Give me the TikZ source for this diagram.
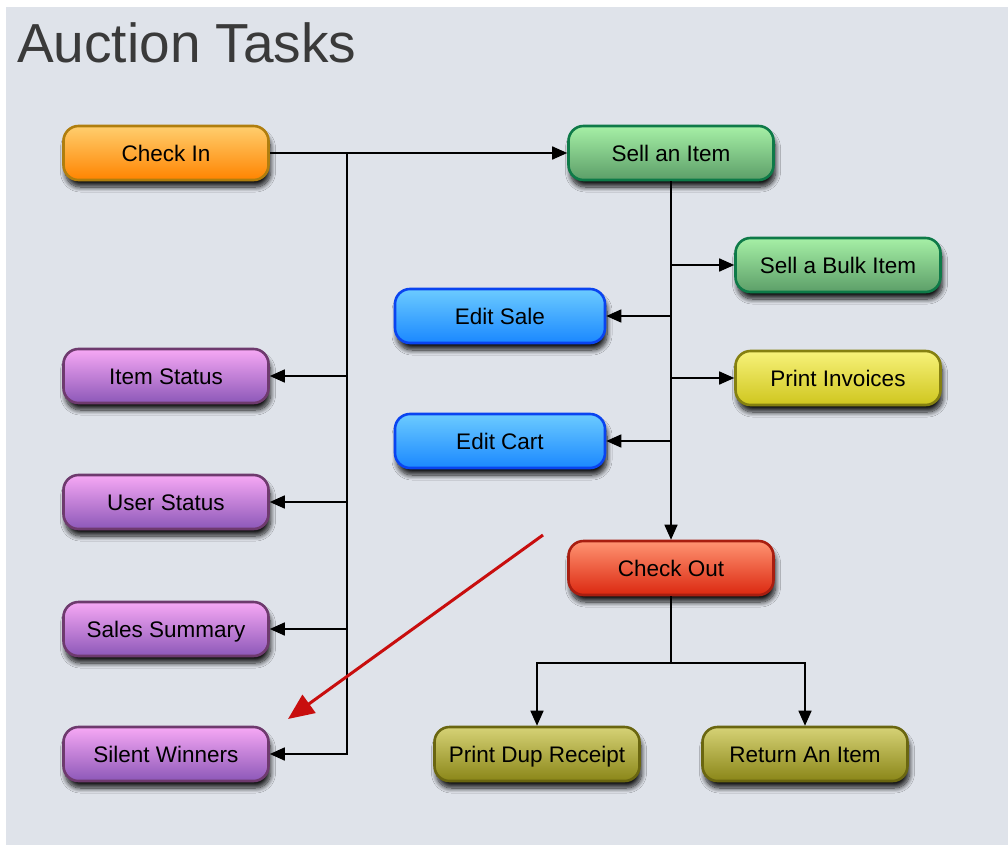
\documentclass[tikz,border=0pt]{standalone}
\usepackage{fontspec}
\setmainfont{Liberation Sans}
\usetikzlibrary{arrows.meta,shadows.blur}
\definecolor{bgc}{HTML}{DFE3EA}
\definecolor{titlec}{HTML}{3A3A3A}
\definecolor{orT}{HTML}{FFCE6E}\definecolor{orB}{HTML}{FF8400}\definecolor{orD}{HTML}{B07E0E}
\definecolor{grT}{HTML}{A6F0A6}\definecolor{grB}{HTML}{5C9E68}\definecolor{grD}{HTML}{0E7A48}
\definecolor{blT}{HTML}{6CCBFF}\definecolor{blB}{HTML}{1A88FF}\definecolor{blD}{HTML}{0A44F0}
\definecolor{yeT}{HTML}{F7F27A}\definecolor{yeB}{HTML}{CFC61E}\definecolor{yeD}{HTML}{858010}
\definecolor{reT}{HTML}{FF9472}\definecolor{reB}{HTML}{DB2810}\definecolor{reD}{HTML}{A81E10}
\definecolor{puT}{HTML}{F7A8F5}\definecolor{puB}{HTML}{8C58B8}\definecolor{puD}{HTML}{6E3A6E}
\definecolor{olT}{HTML}{D6D276}\definecolor{olB}{HTML}{8A8618}\definecolor{olD}{HTML}{6A6610}
\definecolor{redarrow}{HTML}{C80E0E}
\tikzset{
  taskbox/.style={draw, line width=2.6pt, rounded corners=15pt, minimum width=205pt,
    minimum height=54pt, inner sep=0pt, text height=20pt, text depth=4pt,
    font=\fontsize{22.5}{26}\selectfont, text=black,
    blur shadow={shadow xshift=2pt, shadow yshift=-7pt, shadow blur radius=5pt,
    shadow blur steps=10, shadow opacity=90}},
  orangebox/.style={taskbox, draw=orD, top color=orT, bottom color=orB},
  greenbox/.style={taskbox, draw=grD, top color=grT, bottom color=grB},
  bluebox/.style={taskbox, draw=blD, top color=blT, bottom color=blB, minimum width=210pt},
  yellowbox/.style={taskbox, draw=yeD, top color=yeT, bottom color=yeB},
  redbox/.style={taskbox, draw=reD, top color=reT, bottom color=reB},
  purplebox/.style={taskbox, draw=puD, top color=puT, bottom color=puB},
  olivebox/.style={taskbox, draw=olD, top color=olT, bottom color=olB},
  conn/.style={draw=black, line width=1.6pt},
  arr/.style={conn, -{Triangle[length=15pt,width=13pt]}},
  redarr/.style={draw=redarrow, line width=3pt, -{Triangle[length=26pt,width=22pt]}}
}
\begin{document}
\begin{tikzpicture}[x=1pt,y=-1pt]
\useasboundingbox (0,0) rectangle (1008,845);
\fill[white] (0,0) rectangle (1008,845);
\fill[bgc] (6,7) rectangle (1008,845);
\node[anchor=base west, text=titlec, font=\fontsize{55}{60}\selectfont, inner sep=0pt] (title) at (17,63) {Auction Tasks};

\node[orangebox] (checkin) at (166,153) {Check In};
\node[greenbox] (sell) at (671,153) {Sell an Item};
\node[greenbox] (bulk) at (838,265) {Sell a Bulk Item};
\node[bluebox] (editsale) at (500,316) {Edit Sale};
\node[yellowbox] (invoices) at (838,378) {Print Invoices};
\node[bluebox] (editcart) at (500,441) {Edit Cart};
\node[redbox] (checkout) at (671,568) {Check Out};
\node[purplebox] (itemstatus) at (166,376) {Item Status};
\node[purplebox] (userstatus) at (166,502) {User Status};
\node[purplebox] (salessum) at (166,629) {Sales Summary};
\node[purplebox] (silent) at (166,754) {Silent Winners};
\node[olivebox] (dup) at (537,754) {Print Dup Receipt};
\node[olivebox] (return) at (805,754) {Return An Item};

\coordinate (j1) at (347,153);
\coordinate (co) at (671,663);
\coordinate (ra) at (543,535);
\coordinate (rb) at (288,719);

\draw[arr] (checkin.east) -- (sell.west);
\draw[arr] (j1) |- (itemstatus.east);
\draw[arr] (j1) |- (userstatus.east);
\draw[arr] (j1) |- (salessum.east);
\draw[arr] (j1) |- (silent.east);

\draw[arr] (sell.south) -- (checkout.north);
\draw[arr] (sell.south |- bulk.west) -- (bulk.west);
\draw[arr] (sell.south |- editsale.east) -- (editsale.east);
\draw[arr] (sell.south |- invoices.west) -- (invoices.west);
\draw[arr] (sell.south |- editcart.east) -- (editcart.east);

\draw[conn] (checkout.south) -- (co);
\draw[arr] (co) -| (dup.north);
\draw[arr] (co) -| (return.north);

\draw[redarr] (ra) -- (rb);
\end{tikzpicture}
\end{document}
